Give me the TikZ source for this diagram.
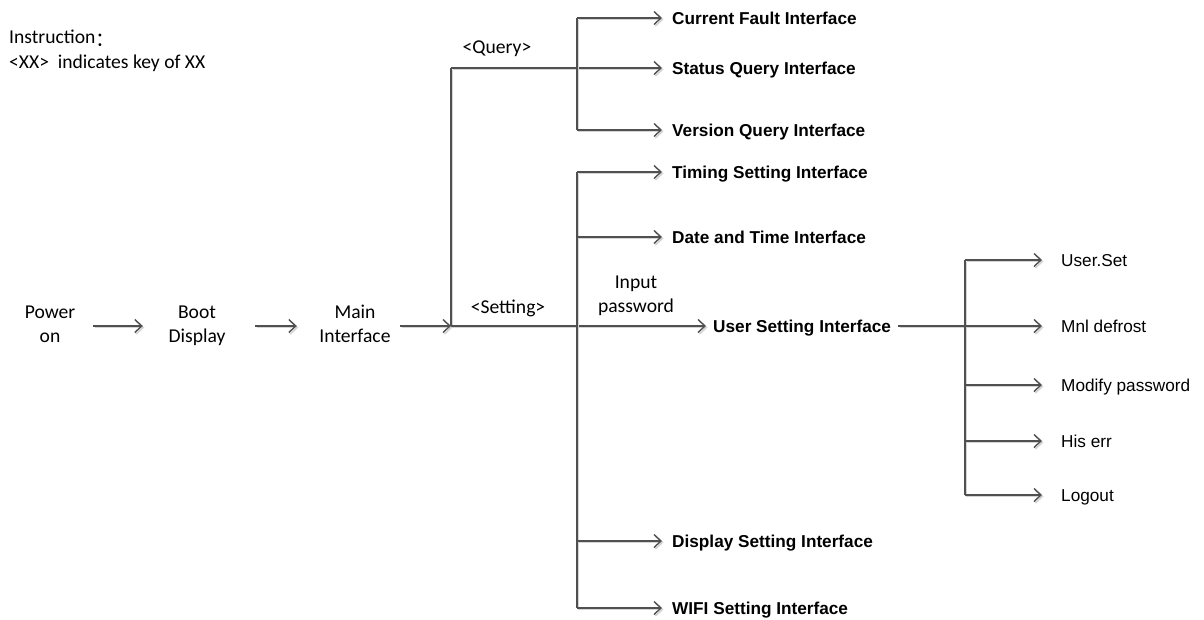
\documentclass[tikz,border=0pt]{standalone}
\usepackage{fontspec}
\setmainfont{Carlito}
\newfontfamily\arialfont{Liberation Sans}
\newfontfamily\cjk{Noto Sans CJK SC}
\usetikzlibrary{arrows.meta}
\definecolor{linegray}{HTML}{505050}
\definecolor{shadowgray}{HTML}{D4D4D4}
\begin{document}
\begin{tikzpicture}[x=1pt,y=-1pt,
  link/.style={draw=linegray, line width=1.4pt,
    preaction={draw=shadowgray, line width=1.6pt,
      transform canvas={xshift=1.5pt,yshift=-1.5pt}}},
  arr/.style={link, -{Straight Barb[length=7pt,width=13pt]}},
  note/.style={font=\fontsize{19.6}{24.5}\selectfont, align=center, inner sep=0pt},
  stage/.style={note, text height=38pt, text depth=5pt},
  boldlbl/.style={font=\arialfont\bfseries\fontsize{17.2}{20}\selectfont,
    anchor=west, inner xsep=10pt, inner ysep=0pt, text height=12.3pt, text depth=0pt},
  leaf/.style={font=\arialfont\fontsize{17.2}{20}\selectfont,
    anchor=west, inner xsep=19pt, inner ysep=0pt, text height=12.3pt, text depth=0pt}]
\useasboundingbox (0,0) rectangle (1204,619);

% legend
\node[note, align=left, anchor=west] (legend) at (9,51)
  {Instruction{\cjk\raisebox{-3pt}{：}}\\{<}XX{>}\ \ indicates key of XX};

% main chain
\node[stage, minimum width=86pt] (power) at (50,326) {Power\\on};
\node[stage, minimum width=108pt] (boot) at (197,326) {Boot\\Display};
\node[stage, minimum width=116pt] (main) at (355,326) {Main\\Interface};

% junctions
\coordinate (j1) at (451,326);
\coordinate (jq) at (451,68);
\coordinate (qt) at (577,18);
\coordinate (qb) at (577,130);
\coordinate (st) at (577,172);
\coordinate (sdt) at (577,237);
\coordinate (sd) at (577,541);
\coordinate (sb) at (577,608);
\coordinate (uj) at (965,326);
\coordinate (ut) at (965,260);
\coordinate (u3) at (965,385);
\coordinate (u4) at (965,441);
\coordinate (ub) at (965,495);

% query branch
\node[boldlbl] (fault) at (662,18) {Current Fault Interface};
\node[boldlbl] (status) at (662,68) {Status Query Interface};
\node[boldlbl] (version) at (662,130) {Version Query Interface};
\node[note] (querykey) at (497,49) {{<}Query{>}};

% setting branch
\node[boldlbl] (timing) at (662,172) {Timing Setting Interface};
\node[boldlbl] (datetime) at (662,237) {Date and Time Interface};
\node[boldlbl, inner xsep=7pt] (user) at (706,326) {User Setting Interface};
\node[boldlbl] (display) at (662,541) {Display Setting Interface};
\node[boldlbl] (wifi) at (662,608) {WIFI Setting Interface};
\node[note] (setkey) at (508,308) {{<}Setting{>}};
\node[note] (pwd) at (636,296) {Input\\password};

% user setting items
\node[leaf] (userset) at (1042,260) {User.Set};
\node[leaf] (defrost) at (1042,326) {Mnl defrost};
\node[leaf] (modify) at (1042,385) {Modify password};
\node[leaf] (hiserr) at (1042,441) {His err};
\node[leaf] (logout) at (1042,495) {Logout};

% connectors
\draw[arr] (power.east) -- (boot.west);
\draw[arr, shorten <=4pt] (boot.east) -- (main.west);
\draw[arr, shorten <=-13pt] (main.east) -- (j1);

\draw[link] (j1) -- (jq);
\draw[arr] (jq) -- (status.west);
\draw[link] (qt) -- (qb);
\draw[arr] (qt) -- (fault.west);
\draw[arr] (qb) -- (version.west);

\draw[arr] (j1) -- (user.west);
\draw[link] (st) -- (sb);
\draw[arr] (st) -- (timing.west);
\draw[arr] (sdt) -- (datetime.west);
\draw[arr] (sd) -- (display.west);
\draw[arr] (sb) -- (wifi.west);

\draw[link] (user.east) -- (uj);
\draw[link] (ut) -- (ub);
\draw[arr] (ut) -- (userset.west);
\draw[arr] (uj) -- (defrost.west);
\draw[arr] (u3) -- (modify.west);
\draw[arr] (u4) -- (hiserr.west);
\draw[arr] (ub) -- (logout.west);
\end{tikzpicture}
\end{document}
